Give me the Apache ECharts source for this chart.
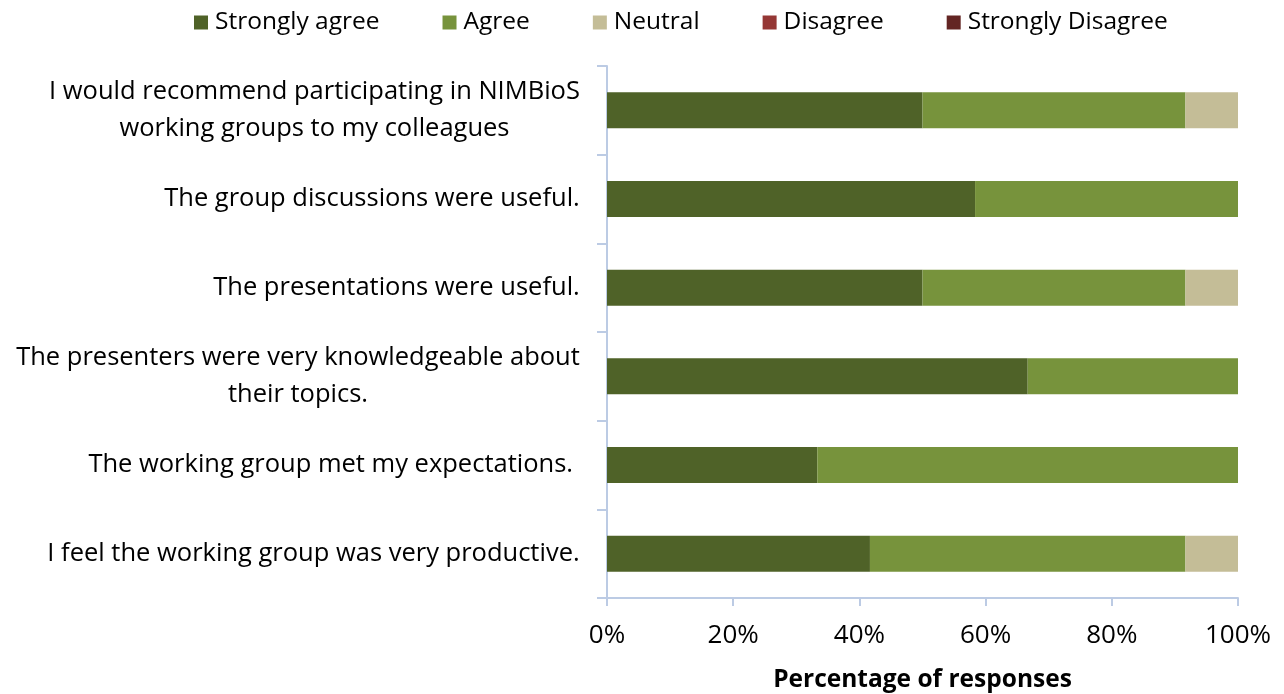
<!DOCTYPE html>
<html>
<head>
<meta charset="utf-8">
<script src="https://cdn.jsdelivr.net/npm/echarts@6/dist/echarts.min.js"></script>
<style>html,body{margin:0;padding:0;background:#fff}#c{width:1284px;height:694px}</style>
</head>
<body>
<div id="c"></div>
<script>
const categories = [
  "I would recommend participating in NIMBioS\nworking groups to my colleagues",
  "The group discussions were useful.",
  "The presentations were useful.",
  "The presenters were very knowledgeable about\ntheir topics.",
  "The working group met my expectations. ",
  "I feel the working group was very productive."
];
const seriesNames = ["Strongly agree", "Agree", "Neutral", "Disagree", "Strongly Disagree"];
const stronglyAgree = [50, 58.33, 50, 66.67, 33.33, 41.67];
const agree = [41.67, 41.67, 41.67, 33.33, 66.67, 50];
const neutral = [8.33, 0, 8.33, 0, 0, 8.33];
const disagree = [0, 0, 0, 0, 0, 0];
const stronglyDisagree = [0, 0, 0, 0, 0, 0];
const xTicks = [0, 20, 40, 60, 80, 100];

const colors = ["#4F6228", "#77933C", "#C4BD97", "#953735", "#632523"];
const FONT = "'Open Sans', sans-serif";
const FS = 25.5;

const ctx = document.createElement('canvas').getContext('2d');
ctx.font = FS + "px " + FONT;
const rich = {};
categories.forEach((c, i) => {
  const lines = c.split('\n');
  const w = Math.max(...lines.map(l => ctx.measureText(l).width));
  rich['r' + i] = { width: Math.ceil(w), align: 'center', fontSize: FS, fontFamily: FONT, color: '#000', lineHeight: 37 };
});

const chart = echarts.init(document.getElementById('c'));
const dataSets = [stronglyAgree, agree, neutral, disagree, stronglyDisagree];
chart.setOption({
  animation: false,
  color: colors,
  legend: {
    top: 5, left: 189,
    itemWidth: 14, itemHeight: 14, itemGap: 63,
    icon: 'rect',
    textStyle: { fontSize: 24.5, fontFamily: FONT, color: '#000', padding: [0, 0, 0, 2] },
    data: seriesNames
  },
  grid: { left: 607, right: 46, top: 66, bottom: 96, outerBoundsMode: 'none' },
  xAxis: {
    type: 'value', min: 0, max: 100, interval: 20,
    axisLine: { show: true, lineStyle: { color: '#BCCBE4', width: 2 } },
    axisTick: { show: true, length: 8, lineStyle: { color: '#BCCBE4', width: 2 } },
    splitLine: { show: false },
    axisLabel: { formatter: v => xTicks.includes(v) ? v + '%' : '', fontSize: 26, fontFamily: FONT, color: '#000', margin: 25 },
    name: 'Percentage of responses', nameLocation: 'middle', nameGap: 70,
    nameTextStyle: { fontSize: 24.5, fontFamily: FONT, fontWeight: 'bold', color: '#000' }
  },
  yAxis: {
    type: 'category', inverse: true, data: categories,
    axisLine: { show: true, lineStyle: { color: '#BCCBE4', width: 2 } },
    axisTick: { show: true, length: 10, lineStyle: { color: '#BCCBE4', width: 2 } },
    axisLabel: {
      margin: 27, align: 'right',
      fontSize: FS, fontFamily: FONT, color: '#000', lineHeight: 37,
      formatter: (v, i) => v.split('\n').map(l => '{r' + i + '|' + l + '}').join('\n'),
      rich: rich
    }
  },
  series: seriesNames.map((n, k) => ({
    name: n, type: 'bar', stack: 'total', barWidth: 36,
    data: dataSets[k]
  }))
});
</script>
</body>
</html>
